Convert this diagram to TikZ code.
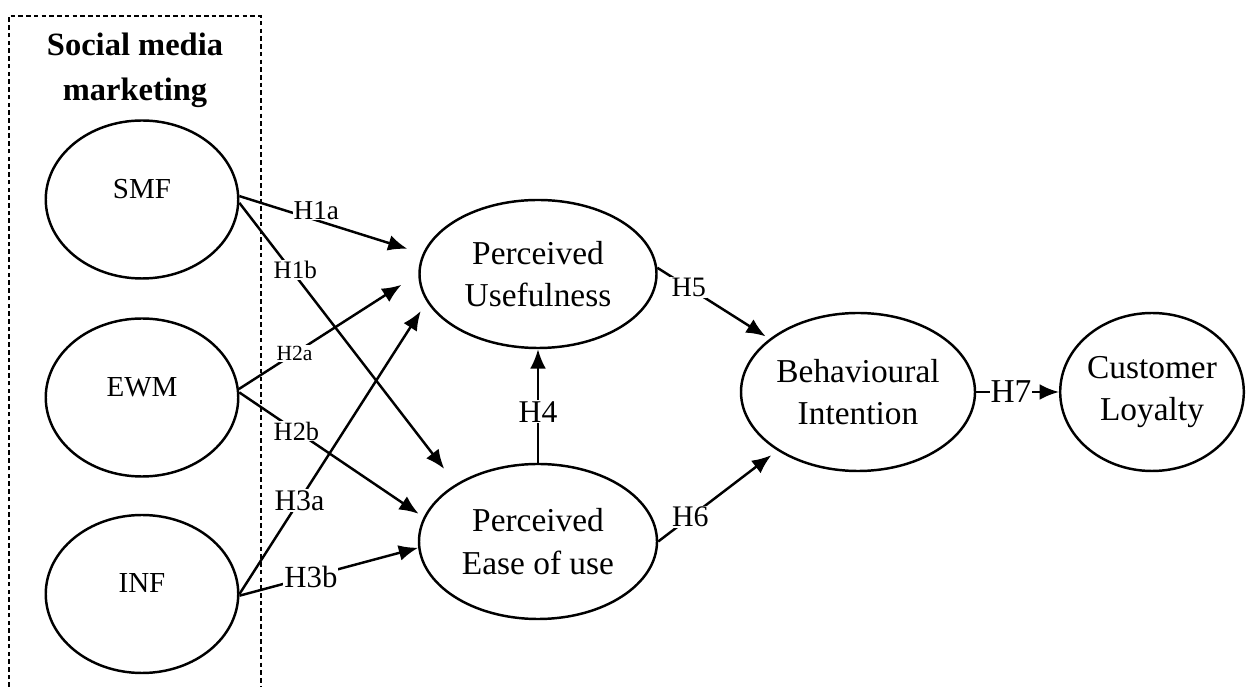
\documentclass[tikz,border=0pt]{standalone}
\usepackage{fontspec}
\setmainfont{Liberation Serif}
\usetikzlibrary{positioning,arrows.meta,shapes.geometric}

\begin{document}
\begin{tikzpicture}[node distance=4cm, on grid,
    construct/.style={ellipse, draw, line width=1.4pt, inner sep=0pt, align=center,
      font=\fontsize{19}{24}\selectfont},
    smm/.style={construct, minimum width=3.85cm, minimum height=3.16cm,
      text depth=0.42cm, font=\fontsize{16.5}{20}\selectfont},
    hyp/.style={fill=white, inner sep=0.6pt, font=\fontsize{#1}{#1}\selectfont},
    >={Latex[length=11pt,width=9pt]}]
   \useasboundingbox (0,0) rectangle (25.02,13.74);
   % dashed frame round the marketing constructs
   \draw[dash pattern=on 2.6pt off 1.8pt, line width=0.7pt]
     (0.18,0) -- (0.18,13.42) -- (5.22,13.42) -- (5.22,0);

   \node[smm] (smf) at (2.84,9.75) {SMF};
   \node[smm, below=3.96cm of smf] (ewm) {EWM};
   \node[smm, below=3.93cm of ewm] (inf) {INF};
   \node[above=2.59cm of smf, xshift=-0.14cm, align=center,
     font=\bfseries\fontsize{18.5}{25.6}\selectfont] (smm) {Social media\\marketing};

   \node[construct, minimum width=4.74cm, minimum height=2.96cm,
     below right=1.49cm and 7.92cm of smf] (pu) {Perceived\\Usefulness};
   \node[construct, minimum width=4.76cm, minimum height=3.1cm,
     below=5.35cm of pu] (peu) {Perceived\\Ease of use};
   \node[construct, minimum width=4.68cm, minimum height=3.16cm,
     below right=2.36cm and 6.4cm of pu] (bi) {Behavioural\\Intention};
   \node[construct, minimum width=3.6cm, minimum height=3.16cm,
     right=5.88cm of bi] (cl) {Customer\\Loyalty};

   \path[->, line width=1.4pt]
    (smf.2) edge[shorten >=0.32cm] node[hyp=15.5, pos=0.42, yshift=0.2cm] (h1a) {H1a} (pu.170)
    (smf.-2) edge[shorten >=0.38cm] node[hyp=14.3, pos=0.24, xshift=0.08cm] (h1b) {H1b} (peu.145)
    (ewm.5) edge[shorten >=0.4cm] node[hyp=12.3, pos=0.31] (h2a) {H2a} (pu.west)
    (ewm.3) edge[shorten >=0.12cm] node[hyp=15, pos=0.31] (h2b) {H2b} (peu.168)
    (inf.east) edge[shorten >=0.22cm] node[hyp=17, pos=0.32] (h3a) {H3a} (pu.194)
    (inf.-1) edge node[hyp=17.5, pos=0.4] (h3b) {H3b} (peu.183)
    (peu.north) edge node[hyp=18, pos=0.45] (h4) {H4} (pu.south)
    (pu.3) edge[shorten >=0.09cm] node[hyp=16, pos=0.28] (h5) {H5} (bi.149)
    (peu.east) edge[shorten >=0.15cm] node[hyp=17, pos=0.27] (h6) {H6} (bi.216)
    (bi.east) edge node[hyp=19, pos=0.42] (h7) {H7} (cl.west);
\end{tikzpicture}
\end{document}
